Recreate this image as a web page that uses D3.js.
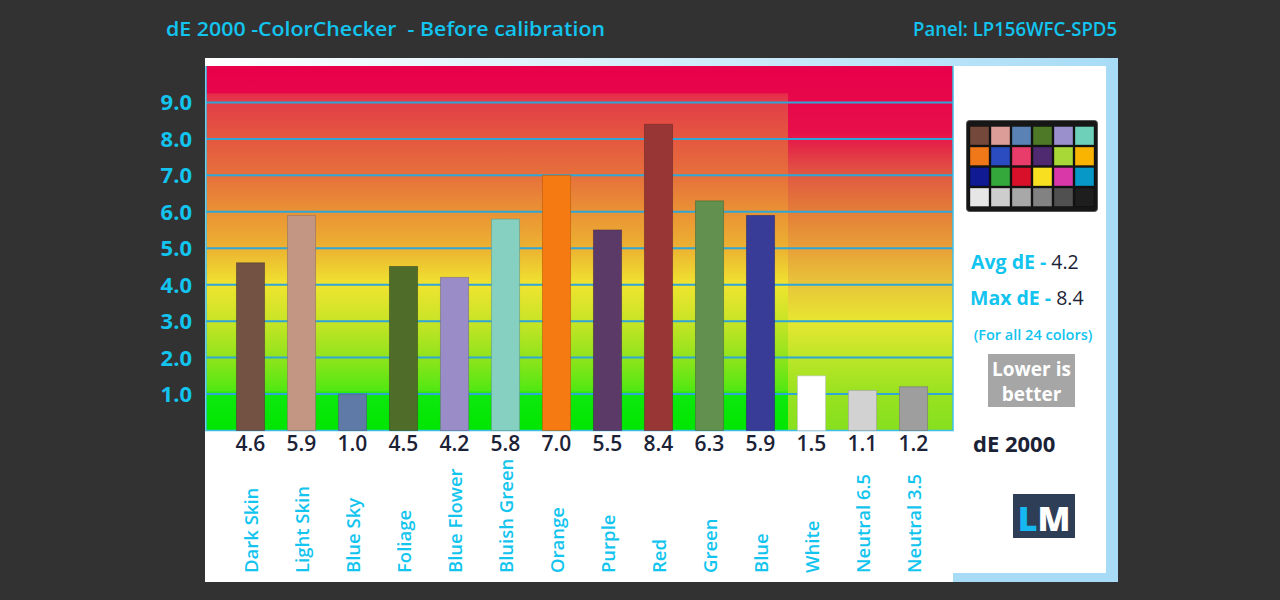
<!DOCTYPE html>
<html><head><meta charset="utf-8">
<script src="https://cdn.jsdelivr.net/npm/d3@7"></script>
<style>
html,body{margin:0;padding:0;background:#323232;}
svg{display:block;}
text{font-family:"Open Sans","Noto Sans",sans-serif;white-space:pre;}
</style></head>
<body>
<svg id="chart" width="1280" height="600"></svg>
<script>
const categories = ["Dark Skin","Light Skin","Blue Sky","Foliage","Blue Flower","Bluish Green","Orange","Purple","Red","Green","Blue","White","Neutral 6.5","Neutral 3.5"];
const values = [4.6,5.9,1.0,4.5,4.2,5.8,7.0,5.5,8.4,6.3,5.9,1.5,1.1,1.2];
const barColors = ["#735244","#c29682","#5f7aa6","#4f6c28","#9a8cc6","#85d0c0","#f67a12","#5c3a68","#983636","#62904e","#383c96","#ffffff","#d2d2d2","#9e9e9e"];
const yTicks = [1,2,3,4,5,6,7,8,9];
const checkerColors = [
  ["#74483a","#dc9c98","#5a82b4","#4e7a28","#9a90cc","#6ed0b8"],
  ["#f07818","#2a4cc0","#e83c6a","#502a70","#a8d838","#f8b400"],
  ["#101a92","#34a83a","#d8102a","#f8e020","#d838a8","#0898c8"],
  ["#e6e6e6","#cdcdcd","#a8a8a8","#828282","#505050","#1e1e1e"]
];
const avgDE = "4.2", maxDE = "8.4";

const svg = d3.select("#chart");
const cyan = "#12c4ee";
const navy = "#1b2236";

// Titles
svg.append("text").attr("x",166).attr("y",36).attr("fill",cyan).attr("font-size",20.5)
  .attr("font-weight",600).attr("textLength",439).attr("lengthAdjust","spacingAndGlyphs")
  .text("dE 2000 -ColorChecker\u00a0\u00a0- Before calibration");
svg.append("text").attr("x",1117).attr("y",36).attr("fill",cyan).attr("font-size",20)
  .attr("font-weight",600).attr("text-anchor","end").attr("textLength",204).attr("lengthAdjust","spacingAndGlyphs")
  .text("Panel: LP156WFC-SPD5");

// Frame
const defs = svg.append("defs");
const topG = defs.append("linearGradient").attr("id","topStrip").attr("x1",0).attr("x2",1).attr("y1",0).attr("y2",0);
topG.append("stop").attr("offset",0).attr("stop-color","#ffffff");
topG.append("stop").attr("offset",1).attr("stop-color","#a8dcf6");
svg.append("rect").attr("x",205).attr("y",58).attr("width",913).attr("height",524).attr("fill","#ffffff");
svg.append("rect").attr("x",205).attr("y",58).attr("width",913).attr("height",8).attr("fill","url(#topStrip)");
svg.append("rect").attr("x",1106).attr("y",58).attr("width",12).attr("height",524).attr("fill","#a8dcf6");
svg.append("rect").attr("x",953).attr("y",573).attr("width",165).attr("height",9).attr("fill","#a8dcf6");
svg.append("rect").attr("x",953).attr("y",66).attr("width",151).attr("height",505).attr("fill","#ffffff");

// Scales
const y = d3.scaleLinear().domain([0,10]).range([430.5,66]);
const x = d3.scaleBand().domain(categories).range([225,939]).paddingInner(0.45).paddingOuter(0.225);
const plotL = 206, plotR = 953;

// Gradients
function grad(id, stops, y1, y2){
  const g = defs.append("linearGradient").attr("id",id).attr("gradientUnits","userSpaceOnUse")
    .attr("x1",0).attr("x2",0).attr("y1",y1).attr("y2",y2);
  stops.forEach(([v,c])=>g.append("stop").attr("offset",(y(v)-y1)/(y2-y1)).attr("stop-color",c));
}
const rightStops = [[10,"#e8004a"],[8.2,"#e70e4a"],[7.0,"#e05a42"],[6.0,"#e47e38"],[5.0,"#e8a038"],[4.0,"#e8c63a"],[3.0,"#e8e630"],[2.0,"#bce628"],[1.0,"#98e220"],[0,"#86e01e"]];
const leftStops = [[9.25,"#e82a4a"],[9.0,"#e23e48"],[8.0,"#e4583f"],[7.0,"#e6703c"],[6.0,"#ea9234"],[5.0,"#ecb232"],[4.0,"#f0e430"],[3.0,"#c8e426"],[2.0,"#90e41c"],[1.1,"#52e812"],[1.0,"#0ee80e"],[0,"#00e600"]];
grad("gRight", rightStops, y(10), y(0));
grad("gLeft", leftStops, y(9.25), y(0));
svg.append("rect").attr("x",plotL).attr("y",y(10)).attr("width",plotR-plotL).attr("height",y(0)-y(10)).attr("fill","url(#gRight)");
svg.append("rect").attr("x",plotL).attr("y",y(9.25)).attr("width",788-plotL).attr("height",y(0)-y(9.25)).attr("fill","url(#gLeft)");

// Grid lines
svg.append("g").selectAll("line").data(yTicks).join("line")
  .attr("x1",plotL).attr("x2",plotR).attr("y1",d=>y(d)).attr("y2",d=>y(d))
  .attr("stroke","#2fa6d6").attr("stroke-width",2);
// Plot border
svg.append("path").attr("d",`M${plotL},${y(10)}V${y(0)}H${plotR}V${y(10)}`)
  .attr("fill","none").attr("stroke","#3ec0e6").attr("stroke-width",1.5);

// Y tick labels
svg.append("g").selectAll("text").data(yTicks).join("text")
  .attr("x",192).attr("y",d=>y(d)+8).attr("text-anchor","end")
  .attr("fill",cyan).attr("font-size",22).attr("font-weight",700)
  .text(d=>d3.format(".1f")(d));

// Bars
svg.append("g").selectAll("rect").data(values).join("rect")
  .attr("x",(d,i)=>x(categories[i])).attr("width",x.bandwidth())
  .attr("y",d=>y(d)).attr("height",d=>y(0)-y(d))
  .attr("fill",(d,i)=>barColors[i])
  .attr("stroke",(d,i)=>d3.color(barColors[i]).darker(0.8)).attr("stroke-opacity",0.6).attr("stroke-width",1);

// Value labels
svg.append("g").selectAll("text").data(values).join("text")
  .attr("x",(d,i)=>x(categories[i])+x.bandwidth()/2).attr("y",451)
  .attr("text-anchor","middle").attr("fill",navy).attr("font-size",21).attr("font-weight",600)
  .text(d=>d3.format(".1f")(d));

// Category labels
svg.append("g").selectAll("text").data(categories).join("text")
  .attr("transform",d=>`translate(${x(d)+x.bandwidth()/2+7},573) rotate(-90)`)
  .attr("fill",cyan).attr("font-size",18.5).attr("font-weight",600)
  .text(d=>d);

// ColorChecker
const cc = svg.append("g");
cc.append("rect").attr("x",966.5).attr("y",120.5).attr("width",131).attr("height",91).attr("rx",3)
  .attr("fill","#161616").attr("stroke","#555").attr("stroke-width",1);
checkerColors.forEach((row,r)=>row.forEach((c,k)=>{
  cc.append("rect").attr("x",970+k*21).attr("y",126.5+r*20.5).attr("width",19).attr("height",18.5)
    .attr("fill",c).attr("stroke","#000").attr("stroke-opacity",0.4).attr("stroke-width",0.8);
}));

// Right panel texts
const t1 = svg.append("text").attr("x",971).attr("y",269).attr("font-size",19.5);
t1.append("tspan").attr("fill",cyan).attr("font-weight",700).text("Avg dE - ");
t1.append("tspan").attr("fill",navy).attr("font-weight",500).text(avgDE);
const t2 = svg.append("text").attr("x",970).attr("y",305).attr("font-size",19.5);
t2.append("tspan").attr("fill",cyan).attr("font-weight",700).text("Max dE - ");
t2.append("tspan").attr("fill",navy).attr("font-weight",500).text(maxDE);
svg.append("text").attr("x",1033).attr("y",340).attr("text-anchor","middle").attr("fill",cyan)
  .attr("font-size",14.5).attr("font-weight",600).text("(For all 24 colors)");
svg.append("rect").attr("x",988).attr("y",354).attr("width",87).attr("height",53).attr("fill","#a6a6a6");
svg.append("text").attr("x",1031.5).attr("y",376).attr("text-anchor","middle").attr("fill","#fff")
  .attr("font-size",19).attr("font-weight",700).text("Lower is");
svg.append("text").attr("x",1031.5).attr("y",401).attr("text-anchor","middle").attr("fill","#fff")
  .attr("font-size",19).attr("font-weight",700).text("better");
svg.append("text").attr("x",973).attr("y",452).attr("fill",navy).attr("font-size",22).attr("font-weight",700).text("dE 2000");

// LM logo
svg.append("rect").attr("x",1013).attr("y",494).attr("width",62).attr("height",44).attr("fill","#2e3e57");
const lm = svg.append("text").attr("x",1044).attr("y",531).attr("text-anchor","middle")
  .attr("font-size",34).attr("font-weight",800).attr("font-family","Roboto Condensed, Roboto, sans-serif");
lm.append("tspan").attr("fill","#16b8f2").text("L");
lm.append("tspan").attr("fill","#ffffff").text("M");
</script>
</body></html>
